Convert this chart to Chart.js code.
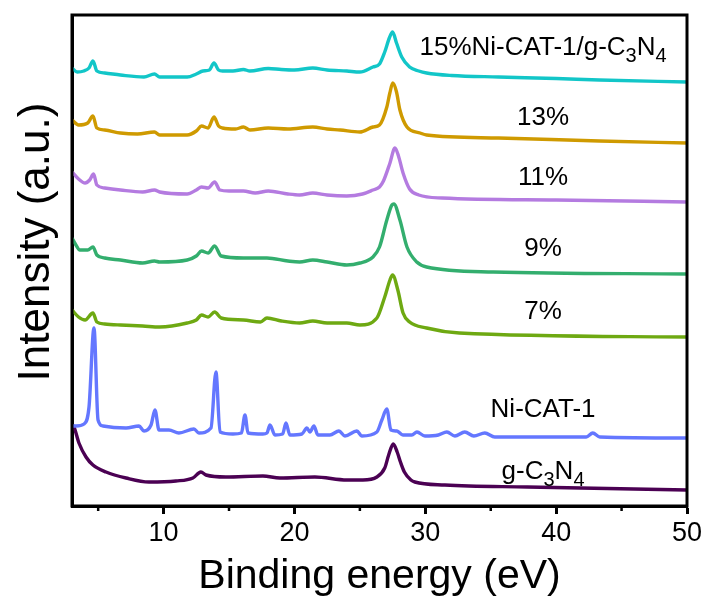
<!DOCTYPE html>
<html>
<head>
<meta charset="utf-8">
<script src="https://cdn.jsdelivr.net/npm/chart.js@4.4.1/dist/chart.umd.min.js"></script>
<style>
html,body{margin:0;padding:0;background:#fff;}
#wrap{width:709px;height:603px;}
</style>
</head>
<body>
<div id="wrap"><canvas id="c" width="709" height="603"></canvas></div>
<script>
// ---- data (x = binding energy, y = intensity a.u., stacked with offsets) ----
const xTicks = [10, 20, 30, 40, 50];
const xMinorTicks = [5, 15, 25, 35, 45];
const seriesNames = ['15%', '13%', '11%', '9%', '7%', 'Ni-CAT-1', 'g-C3N4'];

const curve15 = [[3.0,438],[3.4,434],[3.9,435],[4.3,438],[4.6,445],[4.9,435],[5.5,433],[6.7,431],[8.5,429],[9.3,432],[9.7,429],[11.0,429],[11.8,429],[12.5,432],[13.0,435],[13.5,436],[13.85,443],[14.2,436],[14.5,435],[15.3,435],[16.1,436.5],[16.6,435],[18.0,437.5],[19.0,436.5],[20.0,436],[21.4,438],[22.5,436],[24.0,435],[25.0,434],[26.0,439],[26.5,442],[26.9,454],[27.25,468],[27.5,474],[27.8,463],[28.2,449],[28.8,439],[29.5,435],[30.1,433],[32.0,430.5],[35.6,429],[40.0,427.5],[43.3,426],[50.0,424]];
const curve13 = [[3.0,386],[3.5,381],[4.2,383],[4.6,390],[4.9,378],[5.5,376],[6.7,373],[8.0,372],[9.3,374],[9.7,371],[11.8,371],[12.5,375],[12.9,380],[13.4,378],[13.85,389],[14.2,380],[14.5,378],[15.5,377],[16.1,379],[16.6,376],[18.0,378],[19.5,377],[21.4,379],[22.5,377],[23.5,376],[25.0,374],[26.0,379],[26.5,381],[27.06,399],[27.29,413],[27.52,423],[27.8,414],[28.06,396],[28.6,379],[29.6,373],[30.1,371],[35.6,368],[43.3,365],[50.0,363]];
const curve11 = [[3.0,334],[3.5,327],[4.0,323],[4.35,326],[4.65,332],[4.9,321],[5.5,318],[6.7,316],[8.4,314],[9.3,316],[9.7,314],[11.8,312],[12.5,316],[12.9,319],[13.4,318],[13.9,324],[14.3,316],[15.0,315],[16.1,315],[17.0,313],[18.0,315],[19.5,312],[20.4,311],[21.4,313],[22.5,311],[24.0,310],[25.2,312],[26.0,316],[26.5,319],[26.8,325],[27.3,343],[27.68,358],[27.95,350],[28.3,333],[28.8,317],[29.5,311],[31.3,308],[40.0,306],[50.0,304]];
const curve9 = [[3.0,268],[3.3,261],[3.6,256],[4.2,256],[4.6,259],[4.9,251],[5.5,248],[6.7,246],[8.4,243],[9.3,245],[9.7,244],[11.8,246],[12.5,250],[12.9,255],[13.4,253],[13.9,260],[14.4,250],[16.1,248],[17.9,248],[19.5,245],[20.4,244],[21.4,246],[22.5,244],[24.0,241],[25.0,243],[26.0,249],[26.5,259],[27.06,286],[27.45,301],[27.6,302],[28.06,286],[28.6,259],[29.35,244],[30.1,239],[35.2,234],[50.0,232]];
const curve7 = [[3.0,196],[3.5,189],[4.0,186],[4.6,193],[4.9,184],[5.5,182],[6.7,181],[8.4,180],[9.7,179],[11.8,183],[12.5,186],[12.9,191],[13.4,189],[13.9,194],[14.4,188],[16.1,186],[17.4,184],[17.9,188],[19.0,185],[20.4,183],[21.4,185],[22.5,183],[24.0,183],[25.0,181],[26.3,188],[26.9,209],[27.3,226],[27.5,231],[27.9,216],[28.3,193],[28.8,184],[30.1,178],[32.6,173],[50.0,169]];
const curveNiCat = [[3.0,80],[3.31,80],[3.92,82],[4.30,99],[4.68,178],[4.99,86],[5.37,80],[7.13,78],[8.12,80],[8.50,75],[9.04,81],[9.34,96],[9.65,76],[10.41,76],[11.17,73],[12.32,77],[12.70,73],[13.62,78],[14.0,134],[14.31,74],[15.30,72],[15.95,73],[16.22,91],[16.45,73],[17.59,72],[17.9,73],[18.13,81],[18.51,71],[19.1,72],[19.35,83],[19.65,71],[20.57,72],[20.95,78],[21.18,74],[21.49,80],[21.79,71],[22.71,71],[23.40,75],[23.86,70],[24.77,75],[25.15,70],[26.30,74],[26.68,86],[27.06,97],[27.37,76],[27.83,75],[28.29,71],[28.97,71],[29.36,74],[29.97,70],[31.0,71],[31.65,74],[32.26,70],[33.02,74],[33.71,70],[34.55,73],[35.31,69],[39.52,69],[42.3,69],[42.80,73],[43.34,69],[50.0,68]];
const curveGC3N4 = [[3.0,81],[3.15,79],[3.53,63],[4.07,49],[4.60,41],[5.60,34],[7.13,28],[8.88,24],[10.94,25],[12.24,28],[12.85,34],[13.24,31],[14.76,29],[17.59,30],[18.89,28],[21.56,29],[24.01,26],[25.23,26],[26.3,29],[26.9,38],[27.2,51],[27.55,62],[27.85,54],[28.1,44],[28.4,34],[28.9,26],[29.2,24],[31.5,21],[37.8,19],[50.0,16]];

const labelTexts = ['15%Ni-CAT-1/g-C_3N_4', '13%', '11%', '9%', '7%', 'Ni-CAT-1', 'g-C_3N_4'];

// ---- styling / layout ----
const FONT = '"Liberation Sans", Arial, Helvetica, sans-serif';
const colors = ['#12C6C8', '#CF9A00', '#B47BE0', '#33AE6E', '#6EA912', '#6477FF', '#4B0153'];
const curves = [curve15, curve13, curve11, curve9, curve7, curveNiCat, curveGC3N4];
const labelPos = { x: 39, y: [451, 381, 321, 250, 187, 89, 27] };

const toXY = arr => arr.map(([x, y]) => ({ x, y }));

const decor = {
  id: 'decor',
  afterDraw(chart) {
    const { ctx, chartArea: a, scales: { x, y } } = chart;
    ctx.save();
    // frame
    ctx.strokeStyle = '#000';
    ctx.lineWidth = 3;
    ctx.strokeRect(a.left, a.top, a.right - a.left, a.bottom - a.top);
    // minor ticks
    ctx.lineWidth = 2.5;
    xMinorTicks.forEach(v => {
      const px = x.getPixelForValue(v);
      ctx.beginPath();
      ctx.moveTo(px, a.bottom);
      ctx.lineTo(px, a.bottom + 5);
      ctx.stroke();
    });
    // series labels with subscripts
    ctx.fillStyle = '#000';
    ctx.textBaseline = 'alphabetic';
    ctx.textAlign = 'left';
    const main = '26px ' + FONT, sub = '20px ' + FONT;
    labelTexts.forEach((t, i) => {
      const parts = [];
      for (let k = 0; k < t.length; k++) {
        if (t[k] === '_') { parts.push({ s: t[k + 1], sub: true }); k++; }
        else if (parts.length && !parts[parts.length - 1].sub) parts[parts.length - 1].s += t[k];
        else parts.push({ s: t[k], sub: false });
      }
      let w = 0;
      parts.forEach(p => { ctx.font = p.sub ? sub : main; p.w = ctx.measureText(p.s).width; w += p.w; });
      let cx = x.getPixelForValue(labelPos.x) - w / 2;
      const by = y.getPixelForValue(labelPos.y[i]);
      parts.forEach(p => {
        ctx.font = p.sub ? sub : main;
        ctx.fillText(p.s, cx, by + (p.sub ? 7 : 0));
        cx += p.w;
      });
    });
    // y-axis title
    ctx.font = '44px ' + FONT;
    ctx.textAlign = 'center';
    ctx.textBaseline = 'middle';
    ctx.translate(37, 242);
    ctx.rotate(-Math.PI / 2);
    ctx.fillText('Intensity (a.u.)', 0, 0);
    ctx.restore();
  }
};

new Chart(document.getElementById('c'), {
  type: 'line',
  data: {
    datasets: curves.map((c, i) => ({
      label: seriesNames[i],
      data: toXY(c),
      borderColor: colors[i],
      backgroundColor: colors[i],
      borderWidth: 3.4,
      pointRadius: 0,
      fill: false,
      cubicInterpolationMode: 'monotone'
    }))
  },
  options: {
    responsive: false,
    animation: false,
    devicePixelRatio: 1,
    layout: { padding: { top: 15, right: 22, bottom: 0, left: 0 } },
    plugins: { legend: { display: false }, tooltip: { enabled: false } },
    scales: {
      x: {
        type: 'linear',
        min: 3,
        max: 50,
        afterBuildTicks: s => { s.ticks = xTicks.map(v => ({ value: v })); },
        afterFit: s => { s.height = 97; },
        ticks: { color: '#000', font: { family: FONT, size: 27 }, padding: 3, maxRotation: 0 },
        grid: { display: true, drawOnChartArea: false, drawTicks: true, tickLength: 8, tickWidth: 3, tickColor: '#000' },
        border: { display: true, width: 3, color: '#000' },
        title: { display: true, text: 'Binding energy (eV)', color: '#000', font: { family: FONT, size: 41 }, padding: { top: 0, bottom: 2 } }
      },
      y: {
        min: 0,
        max: 491,
        afterFit: s => { s.width = 72; },
        ticks: { display: false },
        grid: { display: false },
        border: { display: true, width: 3, color: '#000' }
      }
    }
  },
  plugins: [decor]
});
</script>
</body>
</html>
